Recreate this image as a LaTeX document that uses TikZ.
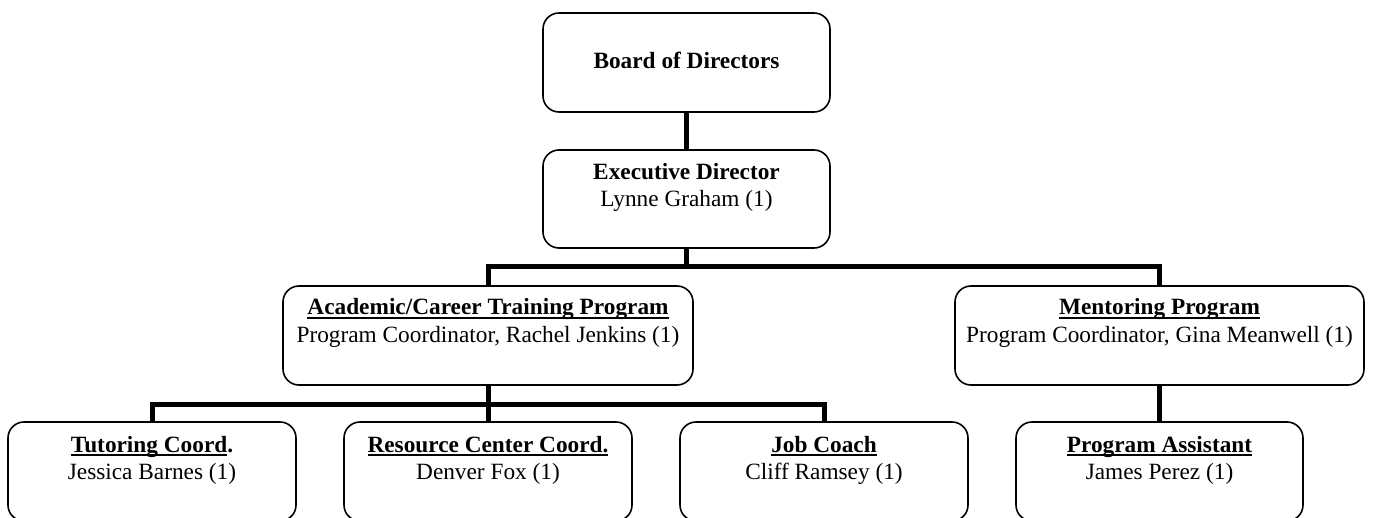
\documentclass[tikz,border=0pt]{standalone}
\usepackage{fontspec}
\setmainfont{Liberation Serif}
\usetikzlibrary{calc}
\newcommand\ulbox[1]{\setbox0\hbox{#1}\rlap{\rule[-4pt]{\wd0}{2pt}}\box0}
\begin{document}
\begin{tikzpicture}[x=1pt,y=-1pt,
  box/.style={draw, line width=1.6pt, rounded corners=16pt, inner sep=0pt},
  conn/.style={line width=5pt, line join=miter},
  lbl/.style={anchor=base, inner sep=0pt, font=\fontsize{23.3}{27.5}\selectfont}]
\useasboundingbox (0,0) rectangle (1373,518);
\clip (0,0) rectangle (1373,518);
\fill[white] (0,0) rectangle (1373,518);
% boxes
\node[box, minimum width=287pt, minimum height=99pt] (board) at (686.5,62.5) {};
\node[box, minimum width=287pt, minimum height=98pt] (exec) at (686.5,199) {};
\node[box, minimum width=410pt, minimum height=99pt] (acad) at (488,335.5) {};
\node[box, minimum width=409pt, minimum height=99pt] (ment) at (1159.5,335.5) {};
\node[box, minimum width=288pt, minimum height=99pt] (tut) at (152,471.5) {};
\node[box, minimum width=288pt, minimum height=99pt] (res) at (488,471.5) {};
\node[box, minimum width=288pt, minimum height=99pt] (job) at (824,471.5) {};
\node[box, minimum width=287pt, minimum height=99pt] (pa) at (1159.5,471.5) {};
% texts
\node[lbl] (tboard) at (686.5,69) {\textbf{Board of Directors}};
\node[lbl] (texec) at (686.5,179.5) {\begin{tabular}[t]{@{}c@{}}\textbf{Executive Director}\\Lynne Graham (1)\end{tabular}};
\node[lbl] (tacad) at (488,315) {\begin{tabular}[t]{@{}c@{}}\textbf{\ulbox{Academic/Career Training Program}}\\Program Coordinator, Rachel Jenkins (1)\end{tabular}};
\node[lbl] (tment) at (1159.5,315) {\begin{tabular}[t]{@{}c@{}}\textbf{\ulbox{Mentoring Program}}\\Program Coordinator, Gina Meanwell (1)\end{tabular}};
\node[lbl] (ttut) at (152,452) {\begin{tabular}[t]{@{}c@{}}\textbf{\ulbox{Tutoring Coord}.}\\Jessica Barnes (1)\end{tabular}};
\node[lbl] (tres) at (488,452) {\begin{tabular}[t]{@{}c@{}}\textbf{\ulbox{Resource Center Coord.}}\\Denver Fox (1)\end{tabular}};
\node[lbl] (tjob) at (824,452) {\begin{tabular}[t]{@{}c@{}}\textbf{\ulbox{Job Coach}}\\Cliff Ramsey (1)\end{tabular}};
\node[lbl] (tpa) at (1159.5,452) {\begin{tabular}[t]{@{}c@{}}\textbf{\ulbox{Program Assistant}}\\James Perez (1)\end{tabular}};
% connectors
\coordinate (busA) at (0,267);
\coordinate (busB) at (0,404);
\draw[conn] (board.south) -- (exec.north);
\draw[conn] (exec.south) -- (exec.south |- busA);
\draw[conn] (acad.north) |- (ment.north |- busA) -- (ment.north);
\draw[conn] (acad.south) -- (acad.south |- busB);
\draw[conn] (tut.north) |- (job.north |- busB) -- (job.north);
\draw[conn] (res.north) -- (res.north |- busB);
\draw[conn] (ment.south) -- (pa.north);
\end{tikzpicture}
\end{document}
